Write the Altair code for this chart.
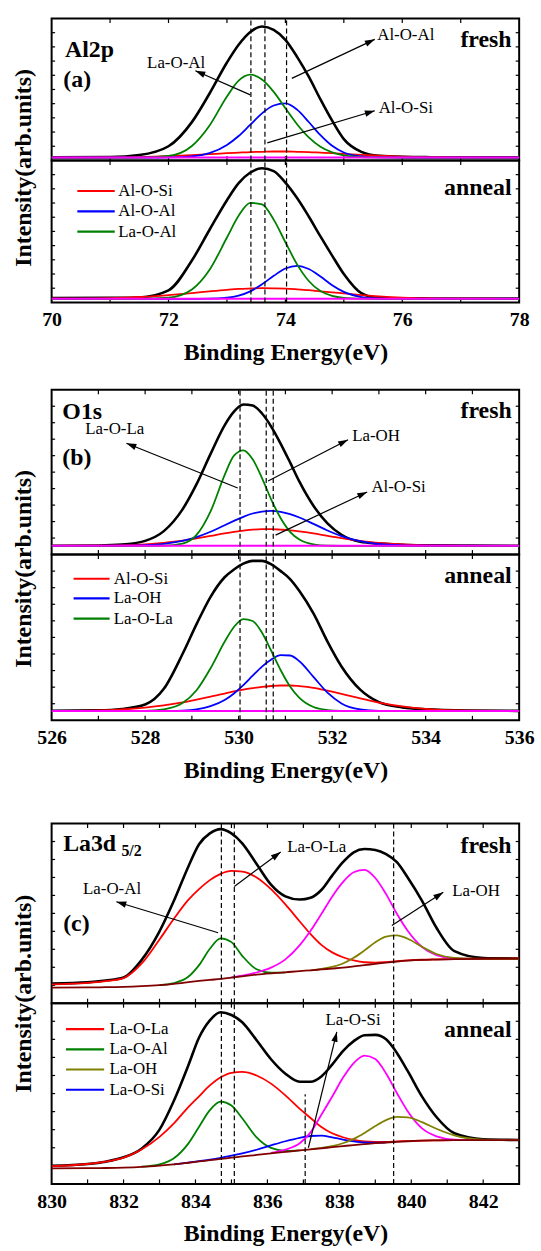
import math
import altair as alt
import pandas as pd

FONT = "Liberation Serif, Times New Roman, Times, DejaVu Serif, serif"
PLOT_W = 471

BLACK = "#000000"
RED = "#ff0000"
BLUE = "#0000ff"
GREEN = "#008000"
MAGENTA = "#ff00ff"
OLIVE = "#808000"
BROWN = "#800000"

# ---------------- (a) Al2p ----------------
A_DOMAIN = [70, 78]
A_TICK_LABELS = [70, 72, 74, 76, 78]
XA = [70, 71, 71.5, 72, 72.4, 72.7, 73.0, 73.2, 73.4, 73.6, 73.8, 74.0, 74.2,
      74.4, 74.6, 74.8, 75.0, 75.3, 75.6, 76, 76.5, 77, 78]
A_FRESH_BLACK = [2.2, 2.4, 3.8, 10, 27, 47, 69, 81.5, 90.5, 94.4, 92, 85, 73,
                 59, 43, 28, 15, 6, 3.2, 2.5, 2.3, 2.2, 2.2]
A_FRESH_GREEN = [2.0, 2.0, 2.0, 3.2, 10.2, 24.5, 45.1, 56.3, 60.4, 57.0, 48.3,
                 36.8, 25.5, 16.2, 9.6, 5.7, 3.6, 2.4, 2.1, 2.0, 2.0, 2.0, 2.0]
A_FRESH_BLUE = [2.0, 2.0, 2.0, 2.1, 2.8, 5.1, 10.9, 17.2, 25.2, 33.2, 38.7,
                40.2, 35.8, 27.1, 17.8, 10.3, 5.6, 2.8, 2.1, 2.0, 2.0, 2.0, 2.0]
A_FRESH_RED = [2.0, 2.1, 2.4, 3.0, 3.7, 4.4, 5.1, 5.5, 5.9, 6.1, 6.3, 6.3, 6.1,
               5.9, 5.5, 5.1, 4.6, 3.9, 3.3, 2.7, 2.3, 2.1, 2.0]
A_ANNEAL_BLACK = [3.0, 3.2, 3.5, 8.5, 29.5, 51, 72, 84, 91.5, 94.5, 92.5, 84.4,
                  73.5, 60.5, 46.5, 33, 20, 6.5, 3.0, 2.9, 2.8, 2.8, 2.7]
A_ANNEAL_GREEN = [2.5, 2.5, 2.5, 3.3, 9.1, 22.8, 45.7, 61.1, 70.1, 69.1, 58.3,
                  42.4, 26.8, 15.1, 8.0, 4.6, 3.2, 2.6, 2.5, 2.5, 2.5, 2.5, 2.5]
A_ANNEAL_BLUE = [2.5, 2.5, 2.5, 2.5, 2.5, 2.6, 3.3, 4.8, 7.8, 12.8, 18.7, 23.9,
                 25.8, 23.5, 18.2, 12.1, 7.4, 3.8, 2.7, 2.5, 2.5, 2.5, 2.5]
A_ANNEAL_RED = [2.6, 3.0, 3.8, 5.2, 6.6, 7.8, 8.9, 9.5, 9.8, 10.0, 9.9, 9.7, 9.2,
                8.6, 7.8, 7.1, 6.3, 5.2, 4.3, 3.4, 2.8, 2.6, 2.5]
A_BASE_X = [70, 78]
A_FRESH_BASE = [2.0, 2.0]
A_ANNEAL_BASE = [2.5, 2.5]
A_DASHED = [73.41, 73.65, 74.02]
A_FRESH_NOTES = [("La-O-Al", 72.13, 68.3), ("Al-O-Al", 76.06, 88.6), ("Al-O-Si", 76.06, 36.8)]
A_FRESH_ARROWS = [(73.4, 46.2, 72.46, 63.2), (74.11, 57.8, 75.53, 85.3), (73.69, 12.4, 75.53, 35.0)]
A_LEGEND = [("Al-O-Si", RED, 78.5), ("Al-O-Al", BLUE, 64.1), ("La-O-Al", GREEN, 49.9)]

# ---------------- (b) O1s ----------------
B_DOMAIN = [526, 536]
B_TICK_LABELS = [526, 528, 530, 532, 534, 536]
XB = [526, 527, 527.5, 528, 528.4, 528.8, 529.1, 529.4, 529.7, 529.9, 530.1, 530.3,
      530.5, 530.7, 530.9, 531.1, 531.3, 531.6, 531.9, 532.2, 532.6, 533, 533.5,
      534, 535, 536]
B_FRESH_BLACK = [5.3, 5.5, 6.0, 8.3, 14.2, 27.4, 42.7, 61.1, 78.4, 86.7, 91.0, 90.4,
                 85.6, 77.5, 67.2, 55.9, 44.2, 29.6, 18.9, 12.0, 7.7, 6.6, 5.9, 5.6,
                 5.4, 5.3]
B_FRESH_GREEN = [5.3, 5.3, 5.3, 5.3, 5.4, 6.6, 11.9, 26.2, 48.2, 60.0, 63.2, 57.8,
                 46.4, 33.2, 22.0, 13.8, 9.1, 6.2, 5.4, 5.3, 5.3, 5.3, 5.3, 5.3,
                 5.3, 5.3]
B_FRESH_BLUE = [5.3, 5.3, 5.4, 5.7, 6.5, 8.3, 10.6, 13.8, 17.8, 20.4, 22.9, 24.9,
                26.1, 26.5, 25.9, 24.5, 22.5, 18.6, 14.6, 11.2, 8.1, 6.4, 5.6, 5.4,
                5.3, 5.3]
B_FRESH_RED = [5.3, 5.4, 5.6, 6.2, 7.1, 8.4, 9.8, 11.3, 12.9, 13.8, 14.5, 15.1,
               15.4, 15.4, 15.1, 14.7, 14.0, 12.8, 11.3, 9.9, 8.3, 7.0, 6.1, 5.6,
               5.3, 5.3]
B_ANNEAL_BLACK = [5.8, 6.0, 6.8, 9.5, 19, 40, 58, 74.5, 86.3, 91, 94.5, 96.2, 96.2,
                  94, 90, 85.2, 78, 64.5, 47.5, 32.5, 18.5, 11, 7.8, 6.6, 5.9, 5.7]
B_ANNEAL_GREEN = [5.6, 5.6, 5.6, 5.7, 6.6, 10.4, 18.1, 31.4, 47.4, 56.3, 61.1, 59.9,
                  52.8, 41.8, 30.2, 20.4, 13.5, 8.0, 6.2, 5.7, 5.6, 5.6, 5.6, 5.6,
                  5.6, 5.6]
B_ANNEAL_BLUE = [5.6, 5.6, 5.6, 5.6, 5.7, 5.9, 6.6, 8.5, 12.2, 16.2, 21.2, 26.9,
                 32.4, 36.7, 39.3, 39.1, 35.6, 26.2, 16.7, 10.2, 6.6, 5.7, 5.6, 5.6,
                 5.6, 5.6]
B_ANNEAL_RED = [5.7, 6.0, 6.6, 7.7, 9.0, 10.8, 12.5, 14.3, 16.1, 17.4, 18.5, 19.4,
                20.2, 20.7, 21.0, 21.0, 20.6, 19.6, 17.9, 16.0, 13.2, 10.7, 8.4, 6.9,
                5.8, 5.6]
B_BASE_X = [526, 536]
B_FRESH_BASE = [5.3, 5.3]
B_ANNEAL_BASE = [5.6, 5.6]
B_DASHED = [530.03, 530.59, 530.74]
B_FRESH_NOTES = [("La-O-La", 527.35, 76.1), ("La-OH", 532.94, 71.7), ("Al-O-Si", 533.42, 41.0)]
B_FRESH_ARROWS = [(529.98, 40.4, 527.6, 67.5), (530.63, 44.6, 532.34, 69.7), (530.79, 11.8, 532.75, 38.0)]
B_LEGEND = [("Al-O-Si", RED, 85.4), ("La-OH", BLUE, 73.5), ("La-O-La", GREEN, 61.3)]

# ---------------- (c) La3d5/2 ----------------
C_DOMAIN = [830, 843]
C_TICK_LABELS = [830, 832, 834, 836, 838, 840, 842]
XC = [830, 831, 831.5, 832, 832.5, 833, 833.4, 833.8, 834.1, 834.4, 834.7, 835.0,
      835.3, 835.7, 836.1, 836.5, 836.9, 837.2, 837.5, 837.8, 838.1, 838.4, 838.7,
      839.0, 839.3, 839.6, 839.9, 840.3, 840.7, 841.2, 842, 843]
C_FRESH_BLACK = [11.0, 11.6, 12.6, 14.3, 24, 40, 57, 76, 88.5, 94.5, 96.9, 94.5, 89,
                 77.5, 66, 59.5, 57.7, 58.7, 63, 71, 78.5, 84, 85.8, 85.3, 83, 78.5,
                 70, 57, 42, 29, 25.2, 24.9]
C_FRESH_BG = [8.7, 8.8, 8.9, 9.1, 9.5, 10.1, 10.8, 11.7, 12.4, 13.0, 13.5, 14.3, 15.0,
              15.9, 16.6, 17.2, 17.9, 18.3, 18.8, 19.3, 19.8, 20.5, 21.2, 21.9, 22.6,
              23.2, 23.7, 24.1, 24.3, 24.5, 24.7, 24.8]
C_FRESH_RED = [10.5, 11.3, 12.3, 14.0, 22, 35.5, 47, 57.5, 63.5, 68.5, 72, 73.6, 73.3,
               70, 63.5, 55, 45.5, 38.5, 32.5, 28.3, 25.6, 23.8, 22.8, 22.6, 22.9, 23.4,
               23.8, 24.2, 24.4, 24.6, 24.8, 24.9]
C_FRESH_GREEN = [None] * 5 + [10.1, 11.2, 14.7, 21.2, 30.3, 36.1, 34.0, 26.4, 18.9,
                              17.0, 17.2] + [None] * 16
C_FRESH_MAGENTA = [None] * 11 + [14.4, 15.4, 17.1, 19.8, 24.4, 32.3, 40.3, 49.6, 59.3,
                                 67.4, 72.9, 74.2, 69.7, 60.7, 49.8, 40.3, 31.3, 26.8,
                                 25.0, 24.7] + [None]
C_FRESH_OLIVE = [None] * 17 + [18.3, 19.1, 20.2, 22.1, 25.3, 29.4, 33.9, 37.1, 37.8,
                               35.9, 31.4, 27.4, 25.2, 24.7, 24.8]
C_ANNEAL_BLACK = [10.0, 11.0, 12.3, 14.7, 19.5, 30, 46, 65.5, 81, 90.5, 95, 93.5, 89.5,
                  79.5, 69, 61, 56.5, 56.5, 59.5, 66, 73.5, 79, 82.3, 82.5, 80, 72.5,
                  62.5, 48.3, 37, 28, 24.7, 24.3]
C_ANNEAL_BG = [8.6, 8.7, 8.8, 9.0, 9.4, 10.1, 10.8, 11.7, 12.4, 13.1, 13.8, 14.5, 15.2,
               16.0, 16.9, 17.7, 18.5, 19.1, 19.7, 20.3, 20.9, 21.5, 22.0, 22.5, 22.9,
               23.3, 23.6, 23.9, 24.1, 24.2, 24.2, 24.2]
C_ANNEAL_RED = [9.8, 11.0, 12.3, 14.5, 19, 26, 33.5, 42.5, 48.5, 54.5, 59, 61.5, 62,
                60, 55.5, 49, 41.5, 36.5, 31.5, 28, 25.8, 24.3, 23.5, 23.3, 23.3, 23.5,
                23.7, 24.0, 24.1, 24.2, 24.2, 24.2]
C_ANNEAL_GREEN = [None] * 4 + [9.5, 10.8, 14.2, 22.3, 31.6, 40.8, 45.5, 43.4, 36.3,
                               25.7, 19.9, 18.3, 18.6] + [None] * 15
C_ANNEAL_BLUE = [None] * 6 + [10.8, 11.8, 12.6, 13.4, 14.4, 15.6, 16.9, 18.9, 21.3,
                              23.6, 25.5, 26.5, 26.7, 25.8, 24.5, 23.5, 22.9, 22.8,
                              23.0] + [None] * 7
C_ANNEAL_MAGENTA = [None] * 14 + [17.2, 19.0, 22.5, 28.5, 38.3, 48.2, 58.7, 66.9, 71.0,
                                  69.1, 61.1, 50.3, 40.2, 30.7, 26.3, 24.5, 24.2] + [None]
C_ANNEAL_OLIVE = [None] * 17 + [19.2, 19.9, 20.9, 22.5, 24.9, 28.2, 32.0, 35.3, 37.1,
                                36.8, 34.2, 30.5, 26.8, 24.5, 24.2]
C_DASHED = [834.72, 835.08, 839.51]
C_ANNEAL_EXTRA_DASH = (837.05, 49.6)
C_FRESH_NOTES = [("La-O-Al", 831.68, 63.5), ("La-O-La", 837.37, 87.1), ("La-OH", 841.8, 62.6)]
C_FRESH_ARROWS = [(834.63, 39.2, 831.8, 56.5), (835.08, 65.0, 836.37, 84.2), (839.46, 43.3, 840.89, 61.7)]
C_ANNEAL_NOTES = [("La-O-Si", 838.38, 90.8)]
C_ANNEAL_ARROWS = [(837.14, 20.0, 837.93, 84.1)]
C_LEGEND = [("La-O-La", RED, 85.7), ("La-O-Al", GREEN, 74.5), ("La-OH", OLIVE, 63.3), ("La-O-Si", BLUE, 52.1)]

ARROW_HEAD = "M0,0L-0.32,1L0.32,1Z"


def build_sub(dom, h, curves, dashed, bold_items, notes, arrows, legend, xaxis, yaxis):
    X = alt.X("x:Q", scale=alt.Scale(domain=dom, nice=False, zero=False), axis=xaxis)
    Y = alt.Y("y:Q", scale=alt.Scale(domain=[0, 100], nice=False, zero=False), axis=yaxis)
    layers = []
    # inward ticks on the frame
    trows = []
    L = 4.5 / h * 100
    for t in range(int(math.ceil(dom[0])), int(math.floor(dom[1])) + 1):
        if dom[0] < t < dom[1]:
            trows.append({"x": t, "x2": t, "y": 0, "y2": L})
            trows.append({"x": t, "x2": t, "y": 100, "y2": 100 - L})
    dx = 3.5 / PLOT_W * (dom[1] - dom[0])
    for v in range(10, 100, 10):
        trows.append({"x": dom[0], "x2": dom[0] + dx, "y": v, "y2": v})
        trows.append({"x": dom[1], "x2": dom[1] - dx, "y": v, "y2": v})
    layers.append(alt.Chart(pd.DataFrame(trows)).mark_rule(color="black", strokeWidth=1.2)
                  .encode(x=X, y=Y, x2="x2:Q", y2="y2:Q"))
    # curves
    for xs, ys, color, width in curves:
        rows = [{"x": a, "y": b} for a, b in zip(xs, ys) if b is not None]
        layers.append(alt.Chart(pd.DataFrame(rows))
                      .mark_line(color=color, strokeWidth=width, interpolate="monotone", clip=True)
                      .encode(x=X, y=Y))
    # dashed guide lines
    drows = [{"x": d[0], "y": d[1], "y2": d[2]} for d in dashed]
    layers.append(alt.Chart(pd.DataFrame(drows))
                  .mark_rule(color="black", strokeWidth=1.2, strokeDash=[5, 3])
                  .encode(x=X, y=Y, y2="y2:Q"))
    # arrows
    if arrows:
        arows, hrows = [], []
        for x0, y0, x1, y1 in arrows:
            dxp = (x1 - x0) / (dom[1] - dom[0]) * PLOT_W
            dyp = (y1 - y0) / 100 * h
            ang = math.degrees(math.atan2(dxp, dyp)) % 360
            arows.append({"x": x0, "y": y0, "x2": x1, "y2": y1})
            hrows.append({"x": x1, "y": y1, "ang": ang})
        layers.append(alt.Chart(pd.DataFrame(arows)).mark_rule(color="black", strokeWidth=1.2)
                      .encode(x=X, y=Y, x2="x2:Q", y2="y2:Q"))
        layers.append(alt.Chart(pd.DataFrame(hrows))
                      .mark_point(shape=ARROW_HEAD, filled=True, color="black", size=400, opacity=1)
                      .encode(x=X, y=Y, angle=alt.Angle("ang:Q", scale=None)))
    # notes
    if notes:
        df = pd.DataFrame([{"x": x, "y": y, "t": t} for t, x, y in notes])
        layers.append(alt.Chart(df).mark_text(font=FONT, fontSize=17, align="center",
                                              baseline="middle", color="black")
                      .encode(x=X, y=Y, text="t:N"))
    # bold labels
    for t, x, y, size, align in bold_items:
        df = pd.DataFrame([{"x": x, "y": y, "t": t}])
        layers.append(alt.Chart(df).mark_text(font=FONT, fontSize=size, fontWeight="bold",
                                              align=align, baseline="middle", color="black")
                      .encode(x=X, y=Y, text="t:N"))
    # legend
    if legend:
        x1, x2, tx, items = legend
        lrows = [{"x": x1, "x2": x2, "y": y, "c": c} for _, c, y in items]
        trows2 = [{"x": tx, "y": y, "t": t} for t, _, y in items]
        layers.append(alt.Chart(pd.DataFrame(lrows)).mark_rule(strokeWidth=2.2)
                      .encode(x=X, y=Y, x2="x2:Q", color=alt.Color("c:N", scale=None)))
        layers.append(alt.Chart(pd.DataFrame(trows2))
                      .mark_text(font=FONT, fontSize=17, align="left", baseline="middle", color="black")
                      .encode(x=X, y=Y, text="t:N"))
    return alt.layer(*layers).properties(width=PLOT_W, height=h)


def y_axis(title_y):
    return alt.Axis(title="Intensity(arb.units)", labels=False, ticks=False, domain=False, grid=False,
                    titleFont=FONT, titleFontSize=24, titleFontWeight="bold", titleColor="black",
                    titleAngle=270, titleX=-28.5, titleY=title_y, titleAlign="center",
                    titleBaseline="middle")


def x_axis(values):
    return alt.Axis(title="Binding Energy(eV)", values=values, format="d", labelFlush=False,
                    labelOverlap=False, ticks=False, tickSize=0, domain=False, grid=False,
                    labelPadding=17.5, labelBaseline="middle", labelFont=FONT, labelFontSize=20,
                    labelFontWeight="bold", labelColor="black", titleFont=FONT, titleFontSize=24,
                    titleFontWeight="bold", titleColor="black", titleY=50.5, titleBaseline="middle")


def full_dash(xs):
    return [(x, 0, 100) for x in xs]


def spacer(h):
    return (alt.Chart(pd.DataFrame({"x": [0]}))
            .mark_point(opacity=0)
            .encode(x=alt.X("x:Q", axis=None), y=alt.Y("x:Q", axis=None))
            .properties(width=PLOT_W, height=h,
                        view=alt.ViewBackground(stroke="transparent", strokeWidth=0)))


# ---------- panel a ----------
a_fresh = build_sub(
    A_DOMAIN, 143,
    [(XA, A_FRESH_BLACK, BLACK, 2.6), (XA, A_FRESH_RED, RED, 1.8), (XA, A_FRESH_BLUE, BLUE, 1.8),
     (XA, A_FRESH_GREEN, GREEN, 1.8), (A_BASE_X, A_FRESH_BASE, MAGENTA, 2.0)],
    full_dash(A_DASHED),
    [("Al2p", 70.23, 78.1, 24, "left"), ("(a)", 70.2, 56.6, 24, "left"), ("fresh", 77.87, 85.1, 24, "right")],
    A_FRESH_NOTES, A_FRESH_ARROWS, None, None, y_axis(150))
a_anneal = build_sub(
    A_DOMAIN, 143,
    [(XA, A_ANNEAL_BLACK, BLACK, 2.6), (XA, A_ANNEAL_RED, RED, 1.8), (XA, A_ANNEAL_BLUE, BLUE, 1.8),
     (XA, A_ANNEAL_GREEN, GREEN, 1.8), (A_BASE_X, A_ANNEAL_BASE, MAGENTA, 2.0)],
    full_dash(A_DASHED),
    [("anneal", 77.87, 80.9, 24, "right")],
    None, None, (70.44, 71.08, 71.14, A_LEGEND), x_axis(A_TICK_LABELS), None)

# ---------- panel b ----------
b_fresh = build_sub(
    B_DOMAIN, 166,
    [(XB, B_FRESH_BLACK, BLACK, 2.6), (XB, B_FRESH_RED, RED, 1.8), (XB, B_FRESH_BLUE, BLUE, 1.8),
     (XB, B_FRESH_GREEN, GREEN, 1.8), (B_BASE_X, B_FRESH_BASE, MAGENTA, 2.0)],
    full_dash(B_DASHED),
    [("O1s", 526.23, 86.6, 24, "left"), ("(b)", 526.23, 58.4, 24, "left"), ("fresh", 535.84, 87.1, 24, "right")],
    B_FRESH_NOTES, B_FRESH_ARROWS, None, None, y_axis(180))
b_anneal = build_sub(
    B_DOMAIN, 167,
    [(XB, B_ANNEAL_BLACK, BLACK, 2.6), (XB, B_ANNEAL_RED, RED, 1.8), (XB, B_ANNEAL_BLUE, BLUE, 1.8),
     (XB, B_ANNEAL_GREEN, GREEN, 1.8), (B_BASE_X, B_ANNEAL_BASE, MAGENTA, 2.0)],
    full_dash(B_DASHED),
    [("anneal", 535.84, 86.8, 24, "right")],
    None, None, (526.47, 527.24, 527.33, B_LEGEND), x_axis(B_TICK_LABELS), None)

# ---------- panel c ----------
c_fresh = build_sub(
    C_DOMAIN, 181,
    [(XC, C_FRESH_BLACK, BLACK, 2.6), (XC, C_FRESH_RED, RED, 1.8), (XC, C_FRESH_GREEN, GREEN, 1.8),
     (XC, C_FRESH_MAGENTA, MAGENTA, 1.8), (XC, C_FRESH_OLIVE, OLIVE, 1.8), (XC, C_FRESH_BG, BROWN, 1.8)],
    full_dash(C_DASHED),
    [("La3d", 830.32, 88.4, 24, "left"), ("5/2", 831.94, 84.7, 16, "left"),
     ("(c)", 830.32, 44.2, 24, "left"), ("fresh", 842.79, 87.5, 24, "right")],
    C_FRESH_NOTES, C_FRESH_ARROWS, None, None, y_axis(171))
c_anneal = build_sub(
    C_DOMAIN, 182,
    [(XC, C_ANNEAL_BLACK, BLACK, 2.6), (XC, C_ANNEAL_RED, RED, 1.8), (XC, C_ANNEAL_GREEN, GREEN, 1.8),
     (XC, C_ANNEAL_BLUE, BLUE, 1.8), (XC, C_ANNEAL_MAGENTA, MAGENTA, 1.8),
     (XC, C_ANNEAL_OLIVE, OLIVE, 1.8), (XC, C_ANNEAL_BG, BROWN, 1.8)],
    full_dash(C_DASHED) + [(C_ANNEAL_EXTRA_DASH[0], 0, C_ANNEAL_EXTRA_DASH[1])],
    [("anneal", 842.79, 85.3, 24, "right")],
    C_ANNEAL_NOTES, C_ANNEAL_ARROWS, (830.4, 831.46, 831.61, C_LEGEND), x_axis(C_TICK_LABELS), None)

chart = alt.vconcat(
    a_fresh, a_anneal, spacer(88), b_fresh, b_anneal, spacer(104), c_fresh, c_anneal,
    spacing=0, bounds="flush"
).properties(
    padding={"left": 10, "top": 12, "right": 6, "bottom": 2},
    background="white",
).configure_view(stroke="black", strokeWidth=2)

chart.save("out.html", embed_options={"renderer": "svg", "actions": False})
